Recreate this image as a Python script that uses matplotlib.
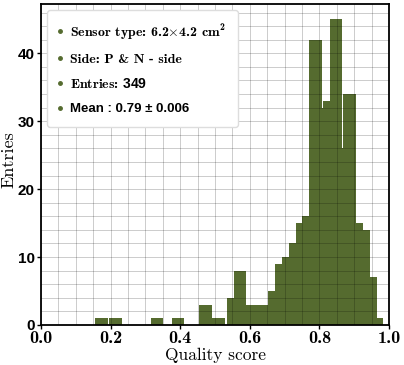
import matplotlib
matplotlib.use("Agg")
import matplotlib.pyplot as plt
from matplotlib.lines import Line2D
from matplotlib.ticker import MultipleLocator

plt.rcParams['mathtext.fontset'] = 'custom'
plt.rcParams['mathtext.rm'] = 'cmb10'
plt.rcParams['mathtext.it'] = 'cmb10'
plt.rcParams['mathtext.bf'] = 'Liberation Sans:bold'
plt.rcParams['mathtext.fallback'] = 'cm'

# Histogram bins (left edge, right edge) and counts
bin_left = [0.155, 0.196, 0.315, 0.375, 0.454, 0.490, 0.533, 0.555, 0.588, 0.651,
            0.672, 0.692, 0.713, 0.732, 0.751, 0.770, 0.806, 0.811, 0.830, 0.866,
            0.869, 0.905, 0.926, 0.945, 0.965]
bin_right = [0.192, 0.232, 0.351, 0.411, 0.490, 0.529, 0.555, 0.588, 0.651, 0.672,
             0.692, 0.713, 0.732, 0.751, 0.770, 0.806, 0.811, 0.830, 0.866, 0.869,
             0.905, 0.926, 0.945, 0.965, 0.983]
counts = [1, 1, 1, 1, 3, 1, 4, 8, 3, 5,
          9, 10, 12, 15, 16, 42, 32, 33, 45, 26,
          34, 15, 14, 7, 1]

xticks = [0.0, 0.2, 0.4, 0.6, 0.8, 1.0]
xtick_labels = ['0.0', '0.2', '0.4', '0.6', '0.8', '1.0']
yticks = [0, 10, 20, 30, 40]
ytick_labels = ['0', '10', '20', '30', '40']

legend_labels = [r'Sensor type: 6.2$\times$4.2 cm$^{2}$',
                 'Side: P & N - side',
                 r'Entries: $\mathbf{349}$',
                 'Mean : 0.79 \u00b1 0.006']

color = '#556B2F'

fig = plt.figure(figsize=(4.04, 3.65), dpi=100)
ax = fig.add_axes([0.1015, 0.1096, 0.8615, 0.8794])

widths = [r - l for l, r in zip(bin_left, bin_right)]
ax.bar(bin_left, counts, width=widths, align='edge', color=color, linewidth=0, zorder=1)

ax.set_xlim(0, 1)
ax.set_ylim(0, 47.25)
ax.set_xticks(xticks, xtick_labels, fontfamily='cmb10', fontsize=13)
ax.set_yticks(yticks, ytick_labels, fontfamily=['Liberation Sans Narrow', 'Liberation Sans'],
              fontweight='bold', fontsize=11)
ax.xaxis.set_minor_locator(MultipleLocator(0.05))
ax.yaxis.set_minor_locator(MultipleLocator(2))
ax.tick_params(which='minor', length=0)
ax.tick_params(which='major', length=3, width=1, pad=1.5)
ax.set_axisbelow(False)
ax.grid(True, which='both', color='k', alpha=0.2, linewidth=0.7, zorder=2)
for s in ax.spines.values():
    s.set_linewidth(1.3)

ax.set_xlabel('Quality score', fontfamily='cmr10', fontsize=12.5, labelpad=1)
ax.set_ylabel('Entries', fontfamily='cmr10', fontsize=13)
ax.yaxis.set_label_coords(-0.07, 0.514)

handles = [Line2D([], [], marker='o', linestyle='', color=color, markersize=2.5) for _ in legend_labels]
leg = ax.legend(handles, legend_labels, loc='upper left', handlelength=0.2, handletextpad=0.6,
                labelspacing=0.82, borderpad=0.85, fontsize=10, framealpha=1,
                edgecolor='#dddddd', bbox_to_anchor=(0.0, 1.0), borderaxespad=0.45)
leg.set_zorder(5)
texts = leg.get_texts()
for t in texts[:3]:
    t.set_fontfamily('cmb10')
texts[3].set_fontfamily('Liberation Sans')
texts[3].set_fontweight('bold')
texts[3].set_fontsize(9.5)

fig.savefig('out.png', dpi=100)
